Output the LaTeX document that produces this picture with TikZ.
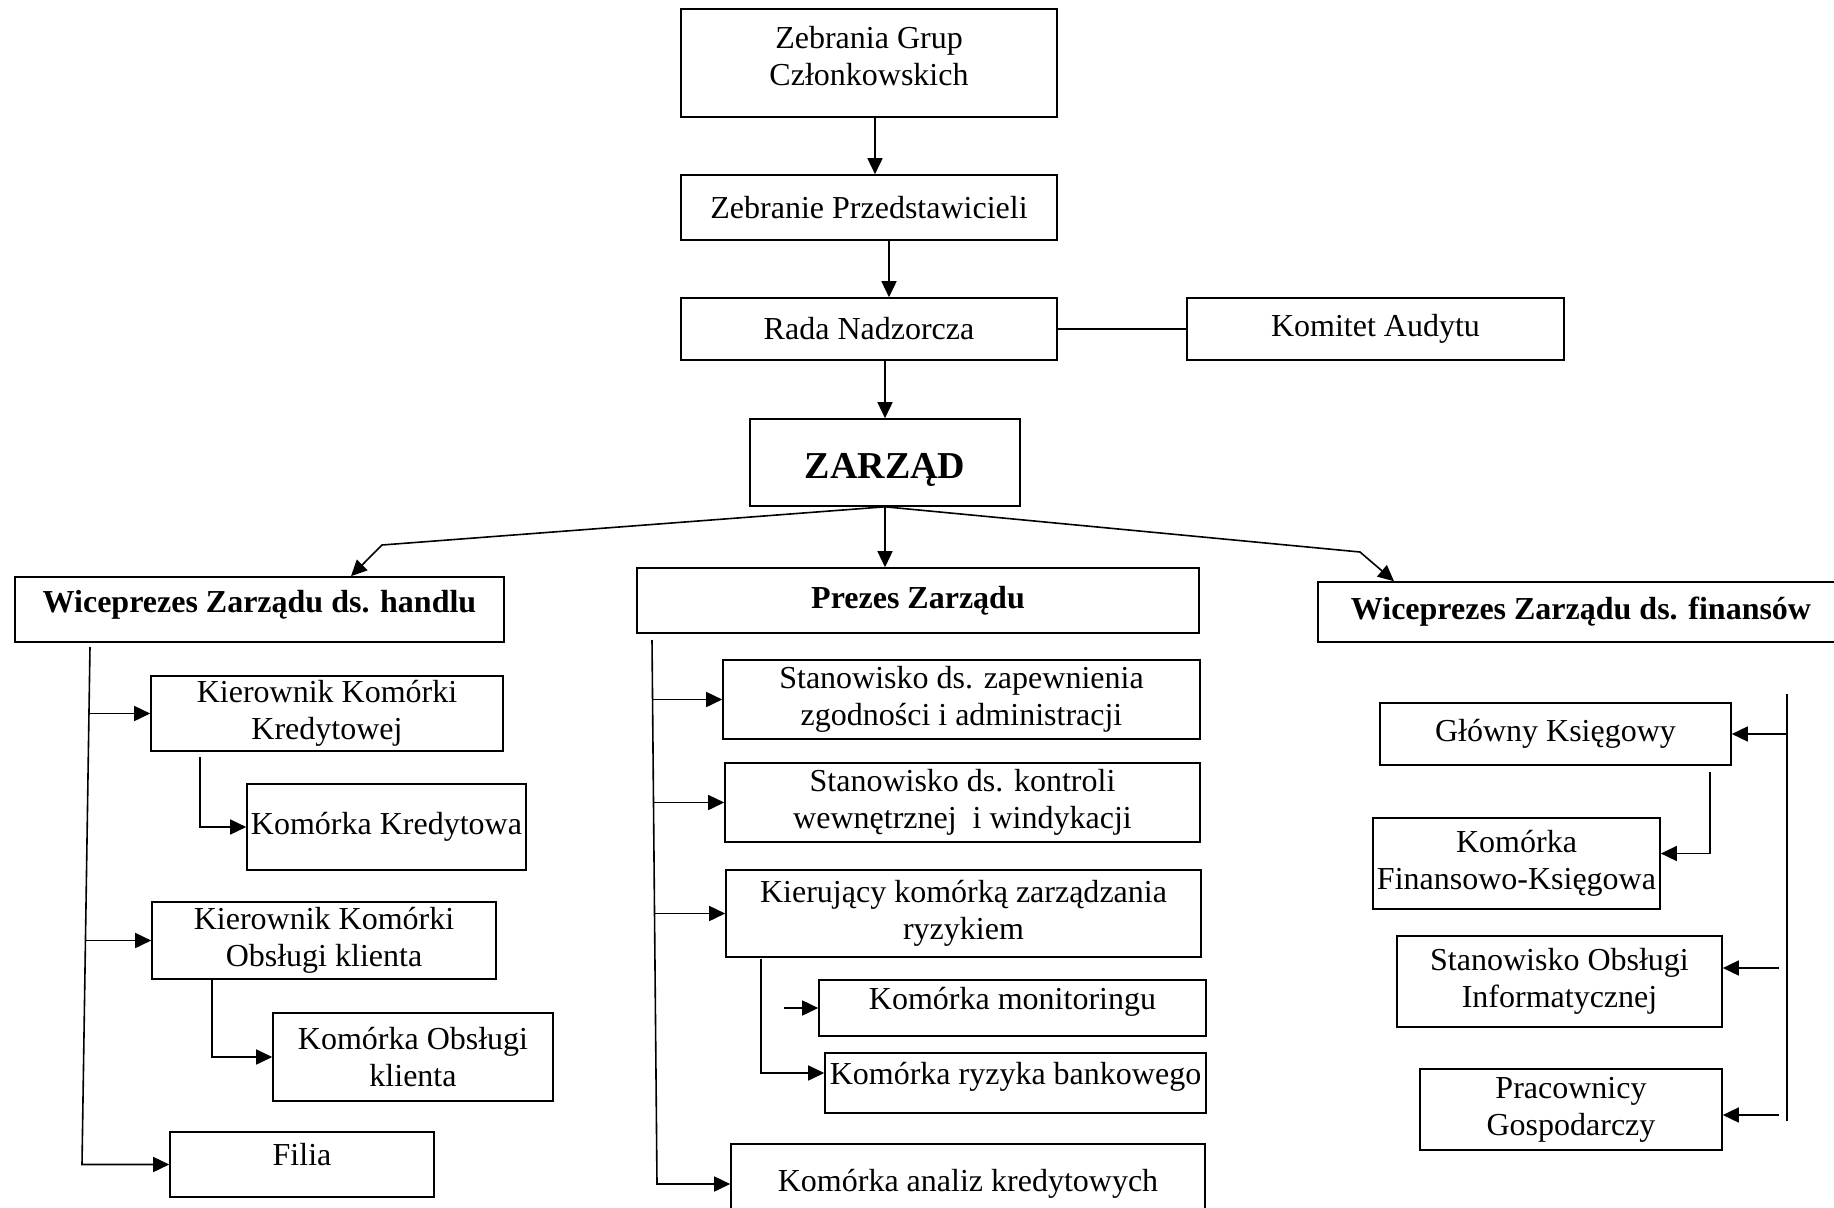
\documentclass[tikz,border=0pt]{standalone}
\usepackage{fontspec}
\setmainfont{Liberation Serif}
\usetikzlibrary{arrows.meta}

\begin{document}
\begin{tikzpicture}[x=0.5pt,y=-0.5pt,
    org/.style={draw,line width=0.8pt,align=center,inner sep=2pt,font=\fontsize{16}{18.5}\selectfont},
    head/.style={org,font=\fontsize{16}{18.5}\selectfont\bfseries},
    uptext/.style={text depth=10pt},
    arr/.style={line width=0.8pt,-{Triangle[length=8pt,width=7.5pt]}},
    ln/.style={line width=0.8pt}]
                \useasboundingbox (0,0) rectangle (1834,1208);
                \node[org,text depth=7pt,minimum width=188pt,minimum height=54pt] (zgc) at (869,63) {Zebrania Grup\\Członkowskich};
                \node[org,minimum width=188pt,minimum height=32.5pt] (zp) at (869,207.5) {Zebranie Przedstawicieli};
                \node[org,minimum width=188pt,minimum height=31pt] (rn) at (869,329) {Rada Nadzorcza};
                \node[org,minimum width=188.5pt,minimum height=31pt] (ka) at (1375.5,329) {Komitet Audytu};
                \node[org,font=\fontsize{19}{22}\selectfont\bfseries,text height=20pt,minimum width=135pt,minimum height=43.5pt] (zarzad) at (885,462.5) {ZARZĄD};
                \node[head,text depth=8pt,minimum width=244.5pt,minimum height=32.5pt] (wh) at (259.5,609.5) {Wiceprezes Zarządu ds. handlu};
                \node[head,minimum width=281pt,minimum height=32.5pt] (pz) at (918,600.5) {Prezes Zarządu};
                \node[head,minimum width=263pt,minimum height=30pt] (wf) at (1581,612) {Wiceprezes Zarządu ds. finansów};
                \node[org,minimum width=176pt,minimum height=37.5pt] (kkk) at (327,713.5) {Kierownik Komórki\\Kredytowej};
                \node[org,minimum width=138.5pt,minimum height=43pt] (kk) at (386.5,827) {Komórka Kredytowa};
                \node[org,minimum width=172pt,minimum height=38.5pt] (kok) at (324,940.5) {Kierownik Komórki\\Obsługi klienta};
                \node[org,minimum width=140pt,minimum height=44pt] (kok2) at (413,1057) {Komórka Obsługi\\klienta};
                \node[org,uptext,minimum width=132pt,minimum height=32.5pt] (filia) at (302,1164.5) {Filia};
                \node[org,minimum width=238.5pt,minimum height=39.5pt] (szz) at (961.5,699.5) {Stanowisko ds. zapewnienia\\zgodności i administracji};
                \node[org,minimum width=237.5pt,minimum height=39.5pt] (skw) at (962.5,802.5) {Stanowisko ds. kontroli\\wewnętrznej \ i windykacji};
                \node[org,minimum width=237.5pt,minimum height=43.5pt] (kkz) at (963.5,913.5) {Kierujący komórką zarządzania\\ryzykiem};
                \node[org,uptext,minimum width=193.5pt,minimum height=28pt] (km) at (1012.5,1008) {Komórka monitoringu};
                \node[org,uptext,minimum width=190.5pt,minimum height=30pt] (krb) at (1015.5,1083) {Komórka ryzyka bankowego};
                \node[org,minimum width=237pt,minimum height=40pt] (kak) at (968,1184) {Komórka analiz kredytowych};
                \node[org,minimum width=175.5pt,minimum height=31pt] (gk) at (1555.5,734) {Główny Księgowy};
                \node[org,minimum width=143.5pt,minimum height=45.5pt] (kfk) at (1516.5,863.5) {Komórka\\Finansowo-Księgowa};
                \node[org,minimum width=162.5pt,minimum height=45.5pt] (soi) at (1559.5,981.5) {Stanowisko Obsługi\\Informatycznej};
                \node[org,minimum width=151pt,minimum height=40.5pt] (pg) at (1571,1109.5) {Pracownicy\\Gospodarczy};
                \draw[arr] ([xshift=3pt]zgc.south) -- ([xshift=3pt]zp.north);
                \draw[arr] ([xshift=10pt]zp.south) -- ([xshift=10pt]rn.north);
                \draw[arr] ([xshift=8pt]rn.south) -- (zarzad.north);
                \draw[ln] (rn.east) -- (ka.west);
                \coordinate (bl) at (382,545);
                \coordinate (br) at (1360,552);
                \draw[arr] (zarzad.south) -- (bl) -- ([xshift=45.75pt]wh.north);
                \draw[arr] (zarzad.south) -- (zarzad.south |- pz.north);
                \draw[arr] (zarzad.south) -- (br) -- ([xshift=-93.5pt]wf.north);
                \coordinate (lt) at (90,647);
                \coordinate (lb) at (82,1164.5);
                \draw[arr] (lt) -- (lb) -- (filia.west);
                \draw[arr] (88,713.5) -- (kkk.west);
                \draw[arr] (86,940.5) -- (kok.west);
                \coordinate (kr1) at (200,757);
                \draw[arr] (kr1) |- (kk.west);
                \coordinate (ob1) at (212,979);
                \draw[arr] (ob1) |- (kok2.west);
                \coordinate (pt) at (652,640);
                \coordinate (pb) at (657,1184);
                \draw[arr] (pt) -- (pb) -- (kak.west);
                \draw[arr] (653,699.5) -- (szz.west);
                \draw[arr] (654,802.5) -- (skw.west);
                \draw[arr] (655,913.5) -- (kkz.west);
                \coordinate (rz) at (761,959);
                \draw[arr] (rz) |- ([yshift=5pt]krb.west);
                \coordinate (mo) at (784,1008);
                \draw[arr] (mo) -- (km.west);
                \coordinate (ft) at (1787,694);
                \coordinate (fb) at (1787,1121);
                \draw[ln] (ft) -- (fb);
                \draw[arr] (ft |- gk.east) -- (gk.east);
                \coordinate (gk1) at (1710,772);
                \draw[arr] (gk1) |- ([yshift=5pt]kfk.east);
                \draw[arr] ([xshift=28pt,yshift=6.75pt]soi.east) -- ([yshift=6.75pt]soi.east);
                \draw[arr] ([xshift=28pt,yshift=-2.75pt]pg.east) -- ([yshift=-2.75pt]pg.east);
            \end{tikzpicture}
\end{document}
